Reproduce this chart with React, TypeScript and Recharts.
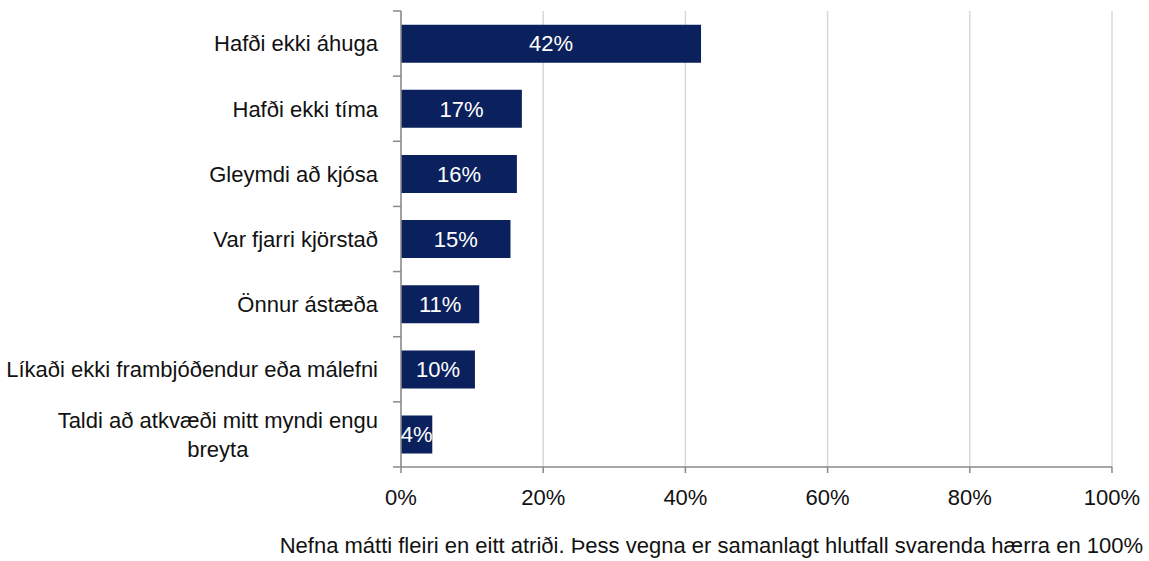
import React from "react";
import { BarChart, Bar, XAxis, YAxis, CartesianGrid, LabelList } from "recharts";

const categories = [
  "Hafði ekki áhuga",
  "Hafði ekki tíma",
  "Gleymdi að kjósa ",
  "Var fjarri kjörstað",
  "Önnur ástæða",
  "Líkaði ekki frambjóðendur eða málefni",
  "Taldi að atkvæði mitt myndi engu\nbreyta",
];
const values = [42.2, 17.0, 16.3, 15.4, 11.0, 10.4, 4.4];
const xTicks = [0, 20, 40, 60, 80, 100];
const footnote = "Nefna mátti fleiri en eitt atriði. Þess vegna er samanlagt hlutfall svarenda hærra en 100%";

const data = categories.map((c, i) => ({ name: c, value: values[i] }));

const W = 1149;
const H = 561;
const MARGIN = { top: 11, right: 37, bottom: 54, left: 0 };
const Y_AXIS_W = 401;
const X_AXIS_H = 40;
const PLOT_H = H - MARGIN.top - MARGIN.bottom - X_AXIS_H;
const STEP = PLOT_H / categories.length;
const FONT = "'Liberation Sans', Arial, sans-serif";
const FS = 22;
const AXIS_COLOR = "#8a8a8a";
const BAR_COLOR = "#0b215d";

let ctx: CanvasRenderingContext2D | null = null;
function measure(t: string): number {
  if (!ctx) {
    const c = document.createElement("canvas");
    ctx = c.getContext("2d");
  }
  if (!ctx) return t.length * FS * 0.45;
  ctx.font = `${FS}px ${FONT}`;
  return ctx.measureText(t).width;
}

const YTick = (props: any) => {
  const { y, payload, index } = props;
  const ax = Y_AXIS_W;
  const right = ax - 23;
  const lines: string[] = String(payload.value).split("\n");
  const lh = 29;
  const marks = [
    <line key="t" x1={ax - 8} x2={ax} y1={y - STEP / 2} y2={y - STEP / 2} stroke={AXIS_COLOR} strokeWidth={1.5} />,
  ];
  if (index === categories.length - 1) {
    marks.push(
      <line key="b" x1={ax - 8} x2={ax} y1={y + STEP / 2} y2={y + STEP / 2} stroke={AXIS_COLOR} strokeWidth={1.5} />
    );
  }
  if (lines.length === 1) {
    return (
      <g>
        {marks}
        <text x={right} y={y} dy="0.36em" textAnchor="end" fontFamily={FONT} fontSize={FS} fill="#111">
          {lines[0]}
        </text>
      </g>
    );
  }
  const maxW = Math.max(...lines.map(measure));
  const cx = right - maxW / 2;
  const y0 = y - ((lines.length - 1) * lh) / 2;
  return (
    <g>
      {marks}
      {lines.map((l, i) => (
        <text key={i} x={cx} y={y0 + i * lh} dy="0.36em" textAnchor="middle" fontFamily={FONT} fontSize={FS} fill="#111">
          {l}
        </text>
      ))}
    </g>
  );
};

export default function App() {
  return (
    <div style={{ position: "absolute", left: 0, top: 0, width: W, height: H, background: "#fff" }}>
      <BarChart width={W} height={H} data={data} layout="vertical" margin={MARGIN} barCategoryGap="21%">
        <CartesianGrid horizontal={false} vertical={true} stroke="#d9d9d9" strokeWidth={1.5} />
        <XAxis
          type="number"
          domain={[0, 100]}
          ticks={xTicks}
          tickFormatter={(v: number) => `${v}%`}
          height={X_AXIS_H}
          stroke={AXIS_COLOR}
          strokeWidth={1.5}
          tickSize={6}
          tickMargin={16}
          tick={{ fontFamily: FONT, fontSize: FS, fill: "#111" }}
          interval={0}
        />
        <YAxis
          type="category"
          dataKey="name"
          width={Y_AXIS_W}
          stroke={AXIS_COLOR}
          strokeWidth={1.5}
          tickLine={false}
          tick={<YTick />}
          interval={0}
        />
        <Bar dataKey="value" fill={BAR_COLOR} isAnimationActive={false}>
          <LabelList
            dataKey="value"
            position="center"
            formatter={(v: any) => `${Math.round(Number(v))}%`}
            fill="#ffffff"
            style={{ fontFamily: FONT, fontSize: FS }}
          />
        </Bar>
      </BarChart>
      <div
        style={{
          position: "absolute",
          right: 6,
          top: 533,
          fontFamily: FONT,
          fontSize: FS,
          color: "#111",
          whiteSpace: "nowrap",
        }}
      >
        {footnote}
      </div>
    </div>
  );
}
